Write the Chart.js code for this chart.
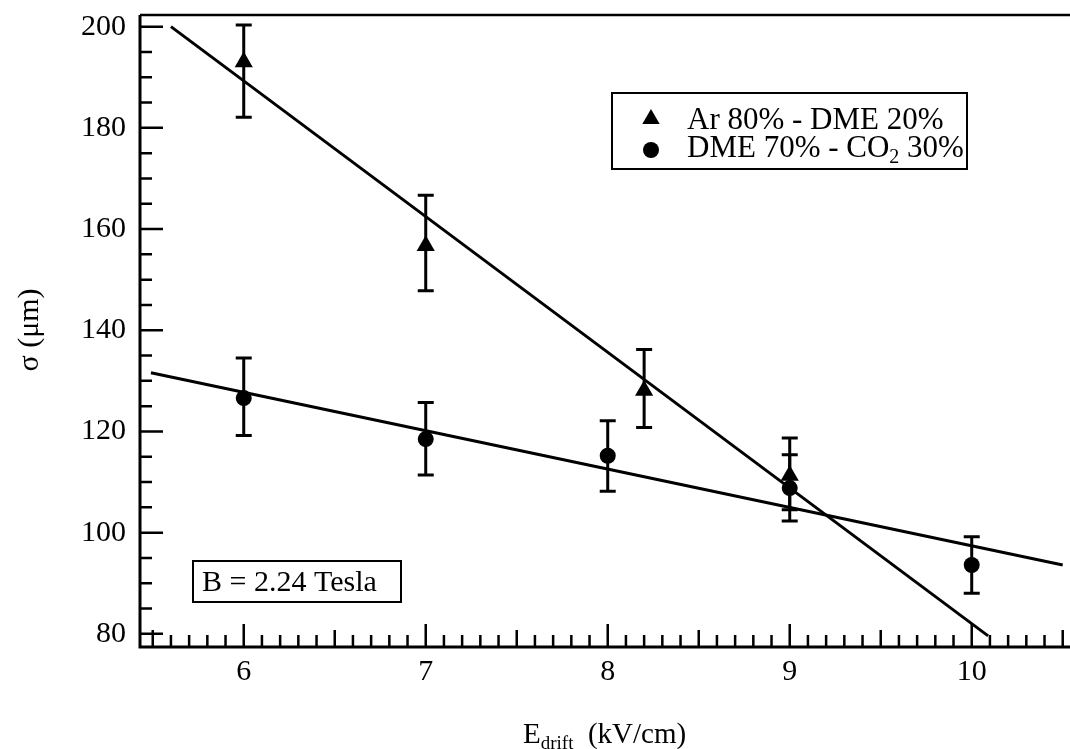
<!DOCTYPE html>
<html>
<head>
<meta charset="utf-8">
<script src="https://cdn.jsdelivr.net/npm/chart.js@4.4.1/dist/chart.umd.min.js"></script>
<style>
  html, body { margin: 0; padding: 0; background: #fff; }
  #wrap { width: 1070px; height: 749px; }
</style>
</head>
<body>
<div id="wrap"><canvas id="sigmaChart" width="1070" height="749"></canvas></div>
<script>
// measured points, Ar 80% - DME 20%
var xArDme = [6, 7, 8.2, 9];
var sigmaArDme = [193.0, 156.7, 128.1, 111.3];
var lowArDme = [182.1, 147.8, 120.8, 104.5];
var highArDme = [200.3, 166.7, 136.2, 118.7];

// measured points, DME 70% - CO2 30%
var xDmeCo2 = [6, 7, 8, 9, 10];
var sigmaDmeCo2 = [126.6, 118.5, 115.2, 108.8, 93.6];
var lowDmeCo2 = [119.2, 111.4, 108.2, 102.3, 88.0];
var highDmeCo2 = [134.5, 125.7, 122.1, 115.4, 99.2];

// straight line fits (end points)
var fitArDmeX = [5.6, 10.09];
var fitArDmeY = [200, 79.6];
var fitDmeCo2X = [5.49, 10.5];
var fitDmeCo2Y = [131.6, 93.6];

// axis ticks
var xTickValues = [6, 7, 8, 9, 10];
var yTickValues = [80, 100, 120, 140, 160, 180, 200];

var serif = "'Liberation Serif', 'DejaVu Serif', serif";

function toPoints(xs, ys) {
  return xs.map(function (v, i) { return {x: v, y: ys[i]}; });
}

// vertical error bars with caps, placed through the scales
var errorBars = {
  id: 'errorBars',
  afterDatasetsDraw: function (chart) {
    var ctx = chart.ctx, xs = chart.scales.x, ys = chart.scales.y;
    ctx.save();
    ctx.strokeStyle = '#000';
    ctx.lineWidth = 3;
    chart.data.datasets.forEach(function (ds) {
      if (!ds.errLow) return;
      ds.data.forEach(function (p, i) {
        var px = xs.getPixelForValue(p.x);
        var lo = ys.getPixelForValue(ds.errLow[i]);
        var hi = ys.getPixelForValue(ds.errHigh[i]);
        ctx.beginPath();
        ctx.moveTo(px, lo); ctx.lineTo(px, hi);
        ctx.moveTo(px - 8, lo); ctx.lineTo(px + 8, lo);
        ctx.moveTo(px - 8, hi); ctx.lineTo(px + 8, hi);
        ctx.stroke();
      });
    });
    ctx.restore();
  }
};

// frame, inward ticks, titles, legend box and field note
var decorations = {
  id: 'decorations',
  afterDraw: function (chart) {
    var ctx = chart.ctx, a = chart.chartArea;
    var xs = chart.scales.x, ys = chart.scales.y;
    ctx.save();
    ctx.strokeStyle = '#000';
    ctx.fillStyle = '#000';

    ctx.lineWidth = 3;
    ctx.beginPath();
    ctx.moveTo(a.left, a.top);
    ctx.lineTo(a.left, a.bottom);
    ctx.lineTo(a.right, a.bottom);
    ctx.stroke();
    ctx.lineWidth = 2.5;
    ctx.beginPath();
    ctx.moveTo(a.left, a.top);
    ctx.lineTo(a.right, a.top);
    ctx.stroke();

    ctx.lineWidth = 2.5;
    ctx.beginPath();
    for (var v = 80; v <= 200; v += 5) {
      var py = ys.getPixelForValue(v);
      var len = v % 20 === 0 ? 23 : 12;
      ctx.moveTo(a.left, py); ctx.lineTo(a.left + len, py);
    }
    for (var i = 55; i <= 105; i++) {
      var px = xs.getPixelForValue(i / 10);
      var l = i % 10 === 0 ? 23 : (i % 5 === 0 ? 17 : 12);
      ctx.moveTo(px, a.bottom); ctx.lineTo(px, a.bottom - l);
    }
    ctx.stroke();

    // axis titles
    ctx.textBaseline = 'alphabetic';
    ctx.font = '29px ' + serif;
    var tx = 523, tb = 743;
    ctx.fillText('E', tx, tb);
    tx += ctx.measureText('E').width;
    ctx.font = '19px ' + serif;
    ctx.fillText('drift', tx, tb + 6);
    tx += ctx.measureText('drift').width;
    ctx.font = '29px ' + serif;
    ctx.fillText('  (kV/cm)', tx, tb);

    ctx.save();
    ctx.translate(38, 330);
    ctx.rotate(-Math.PI / 2);
    ctx.textAlign = 'center';
    ctx.font = '30px ' + serif;
    ctx.fillText('\u03c3 (\u03bcm)', 0, 0);
    ctx.restore();

    // legend box
    ctx.lineWidth = 2;
    ctx.strokeRect(612, 93, 355, 76);
    ctx.beginPath();
    ctx.moveTo(651, 119 - 10);
    ctx.lineTo(651 + 8.7, 119 + 5);
    ctx.lineTo(651 - 8.7, 119 + 5);
    ctx.closePath();
    ctx.fill();
    ctx.beginPath();
    ctx.arc(651, 150, 8, 0, Math.PI * 2);
    ctx.fill();
    ctx.font = '31px ' + serif;
    ctx.fillText('Ar 80% - DME 20%', 687, 129);
    var lx = 687;
    ctx.fillText('DME 70% - CO', lx, 157);
    lx += ctx.measureText('DME 70% - CO').width;
    ctx.font = '20px ' + serif;
    ctx.fillText('2', lx, 163);
    lx += ctx.measureText('2').width;
    ctx.font = '31px ' + serif;
    ctx.fillText(' 30%', lx, 157);

    // field note
    ctx.lineWidth = 2;
    ctx.strokeRect(193, 561, 208, 41);
    ctx.font = '30px ' + serif;
    ctx.fillText('B = 2.24 Tesla', 202, 591);
    ctx.restore();
  }
};

var ctx_sigma = document.getElementById('sigmaChart').getContext('2d');

var chartData = {
  datasets: [
    {
      type: 'line', data: toPoints(fitArDmeX, fitArDmeY),
      borderColor: '#000', borderWidth: 3, pointRadius: 0, fill: false, order: 3
    },
    {
      type: 'line', data: toPoints(fitDmeCo2X, fitDmeCo2Y),
      borderColor: '#000', borderWidth: 3, pointRadius: 0, fill: false, order: 3
    },
    {
      label: 'Ar 80% - DME 20%', data: toPoints(xArDme, sigmaArDme),
      errLow: lowArDme, errHigh: highArDme,
      pointStyle: 'triangle', pointRadius: 10.5, backgroundColor: '#000',
      borderColor: '#000', borderWidth: 0, order: 1
    },
    {
      label: 'DME 70% - CO2 30%', data: toPoints(xDmeCo2, sigmaDmeCo2),
      errLow: lowDmeCo2, errHigh: highDmeCo2,
      pointStyle: 'circle', pointRadius: 8, backgroundColor: '#000',
      borderColor: '#000', borderWidth: 0, order: 1
    }
  ]
};

var chartOptions = {
  responsive: false,
  animation: false,
  devicePixelRatio: 1,
  layout: { autoPadding: false, padding: { top: 15, right: 0, left: 0, bottom: 0 } },
  plugins: { legend: { display: false }, tooltip: { enabled: false } },
  scales: {
    x: {
      type: 'linear', min: 5.43, max: 10.54,
      border: { display: false },
      grid: { display: false, drawTicks: false },
      afterBuildTicks: function (s) { s.ticks = xTickValues.map(function (v) { return {value: v}; }); },
      afterFit: function (s) { s.height = 102; s.paddingLeft = 0; s.paddingRight = 0; },
      ticks: { color: '#000', padding: 7, font: { family: serif, size: 30 },
        callback: function (v) { return String(v); } }
    },
    y: {
      type: 'linear', min: 77.4, max: 202.3,
      border: { display: false },
      grid: { display: false, drawTicks: false },
      afterBuildTicks: function (s) { s.ticks = yTickValues.map(function (v) { return {value: v}; }); },
      afterFit: function (s) { s.width = 140; s.paddingTop = 0; s.paddingBottom = 0; },
      ticks: { color: '#000', padding: 14, font: { family: serif, size: 30 },
        callback: function (v) { return String(v); } }
    }
  }
};

var sigmaChart = new Chart(ctx_sigma, {
  type: 'scatter', data: chartData, options: chartOptions,
  plugins: [errorBars, decorations]
});
</script>
</body>
</html>
